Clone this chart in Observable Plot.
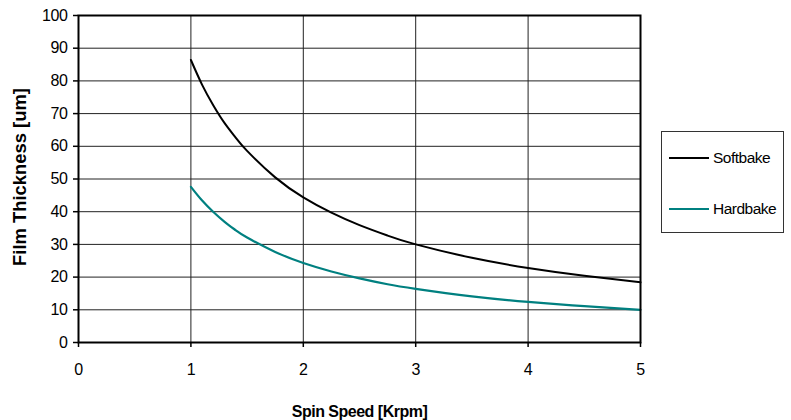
<!DOCTYPE html>
<html>
<head>
<meta charset="utf-8">
<script src="https://cdn.jsdelivr.net/npm/d3@7"></script>
<script src="https://cdn.jsdelivr.net/npm/@observablehq/plot@0.6"></script>
<style>
  html, body { margin: 0; padding: 0; background: #fff; }
  #wrap { position: relative; width: 791px; height: 420px; font-family: "Liberation Sans", Arial, sans-serif; }
  #legend { position: absolute; left: 661px; top: 131px; width: 121px; height: 100px; border: 1.5px solid #333; background: #fff; }
  .li { position: absolute; left: 0; height: 20px; }
  .li .sw { position: absolute; left: 7px; width: 40px; top: 9px; height: 2px; }
  .li .tx { position: absolute; left: 51px; top: 0; font-size: 15.5px; line-height: 20px; letter-spacing: -0.5px; color: #000; white-space: nowrap; }
</style>
</head>
<body>
<div id="wrap">
  <div id="chart"></div>
  <div id="legend"></div>
</div>
<script>
// Data
const speed = [1, 1.1, 1.2, 1.3, 1.4, 1.5, 1.75, 2, 2.25, 2.5, 2.75, 3, 3.5, 4, 4.5, 5];
const softbake = [86.4, 78.8, 72.5, 67.1, 62.6, 58.6, 50.5, 44.4, 39.7, 35.9, 32.7, 30.0, 25.9, 22.8, 20.4, 18.4];
const hardbake = [47.6, 43.4, 39.9, 36.9, 34.3, 32.1, 27.7, 24.3, 21.7, 19.6, 17.8, 16.4, 14.1, 12.4, 11.1, 10.0];
const seriesNames = ["Softbake", "Hardbake"];
const seriesColors = ["#000000", "#008080"];
const xTicks = [0, 1, 2, 3, 4, 5];
const yTicks = [0, 10, 20, 30, 40, 50, 60, 70, 80, 90, 100];
const xTitle = "Spin Speed [Krpm]";
const yTitle = "Film Thickness [um]";

const rows = [];
speed.forEach((s, i) => {
  rows.push({speed: s, value: softbake[i], series: seriesNames[0]});
  rows.push({speed: s, value: hardbake[i], series: seriesNames[1]});
});

const chart = Plot.plot({
  width: 791,
  height: 420,
  marginLeft: 78,
  marginRight: 151,
  marginTop: 15,
  marginBottom: 78,
  style: {fontFamily: '"Liberation Sans", Arial, sans-serif', background: "#fff", color: "#000"},
  x: {domain: [0, 5]},
  y: {domain: [0, 100]},
  color: {domain: seriesNames, range: seriesColors},
  marks: [
    Plot.gridY(yTicks, {stroke: "#222", strokeOpacity: 1, strokeWidth: 1}),
    Plot.gridX(xTicks, {stroke: "#222", strokeOpacity: 1, strokeWidth: 1}),
    Plot.axisY(yTicks, {tickSize: 5, tickPadding: 6, fontSize: 16, stroke: "#000", strokeWidth: 1.5, label: null}),
    Plot.axisX(xTicks, {tickSize: 5, tickPadding: 16, fontSize: 16, stroke: "#000", strokeWidth: 1.5, label: null}),
    Plot.line(rows.filter(d => d.series === "Softbake"), {x: "speed", y: "value", stroke: "series", strokeWidth: 2, curve: "natural"}),
    Plot.line(rows.filter(d => d.series === "Hardbake"), {x: "speed", y: "value", stroke: "series", strokeWidth: 2.2, curve: "natural"}),
    Plot.frame({stroke: "#000", strokeWidth: 2}),
    Plot.text([xTitle], {frameAnchor: "bottom", dy: 69, fontWeight: "bold", fontSize: 16, textAnchor: "middle", lineAnchor: "middle", className: "xt"}),
    Plot.text([yTitle], {frameAnchor: "left", dx: -58, dy: -2, rotate: -90, fontWeight: "bold", fontSize: 18.4, textAnchor: "middle", lineAnchor: "middle"})
  ]
});
d3.select(chart).selectAll("g[aria-label='y-axis tick label'] text, g[aria-label='x-axis tick label'] text")
  .style("letter-spacing", "-0.4px");
d3.select(chart).selectAll(".xt text").style("letter-spacing", "-0.5px");
document.getElementById("chart").appendChild(chart);

const legend = d3.select("#legend");
const legendTops = [16, 67];
seriesNames.forEach((name, i) => {
  const item = legend.append("div").attr("class", "li").style("top", legendTops[i] + "px");
  item.append("div").attr("class", "sw").style("background", seriesColors[i]);
  item.append("div").attr("class", "tx").text(name);
});
</script>
</body>
</html>
